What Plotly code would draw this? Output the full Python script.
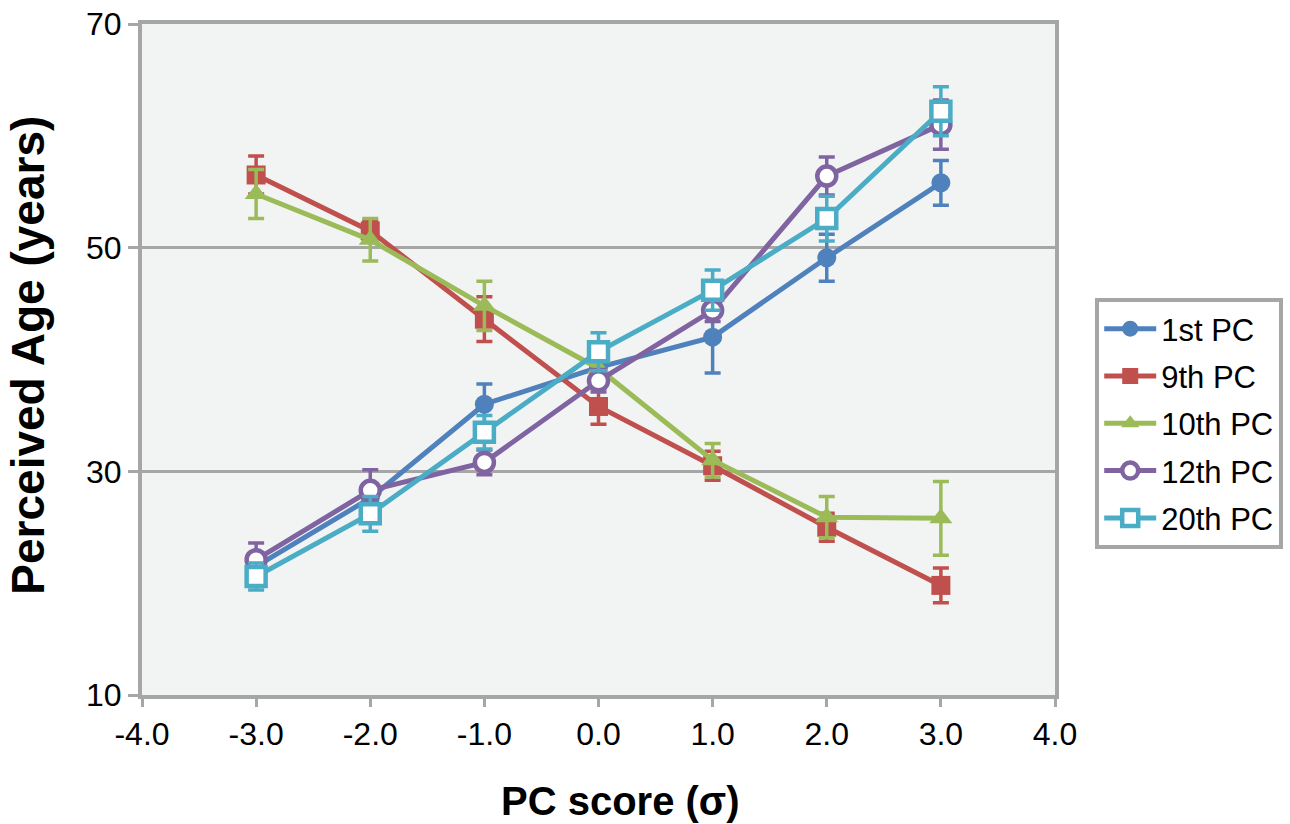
import plotly.graph_objects as go

x_vals = [-3, -2, -1, 0, 1, 2, 3]

pc1 = [21.5, 27.6, 36.0, 39.3, 42.0, 49.1, 55.8]
pc1_err = [1.0, 1.0, 1.8, 1.0, 3.2, 2.1, 2.0]
pc9 = [56.5, 51.5, 43.6, 35.8, 30.5, 25.0, 19.8]
pc9_err = [1.7, 0.9, 2.0, 1.6, 1.3, 1.25, 1.55]
pc10 = [54.8, 50.7, 44.8, 39.2, 31.0, 25.9, 25.8]
pc10_err = [2.2, 1.9, 2.2, 1.0, 1.5, 1.85, 3.3]
pc12 = [22.1, 28.3, 30.8, 38.1, 44.4, 56.4, 61.0]
pc12_err = [1.5, 1.85, 1.1, 1.0, 1.0, 1.7, 2.2]
pc20 = [20.6, 26.2, 33.5, 40.7, 46.2, 52.6, 62.2]
pc20_err = [1.2, 1.55, 1.5, 1.7, 1.8, 2.0, 2.2]

names = ["1st PC", "9th PC", "10th PC", "12th PC", "20th PC"]
colors = ["#4f81bd", "#c0504d", "#9bbb59", "#8064a2", "#4bacc6"]
symbols = ["circle", "square", "triangle-up", "circle-open", "square-open"]
series = [(pc1, pc1_err), (pc9, pc9_err), (pc10, pc10_err), (pc12, pc12_err), (pc20, pc20_err)]

fig = go.Figure()
for name, col, sym, (ys, es) in zip(names, colors, symbols, series):
    open_marker = sym.endswith("open")
    fig.add_trace(go.Scatter(
        x=x_vals, y=ys, name=name, mode="lines+markers", legendgroup=name,
        line=dict(color=col, width=5),
        marker=dict(symbol=sym.replace("-open", "") if open_marker else sym,
                    size=19 if sym != "triangle-up" else 20,
                    color="white" if open_marker else col,
                    line=dict(color=col, width=4.5 if open_marker else 0)),
        error_y=dict(type="data", array=es, visible=True, color=col, thickness=3.5, width=8),
    ))

fig.update_layout(
    width=1290, height=824,
    margin=dict(l=142, r=235, t=24, b=129, autoexpand=False),
    paper_bgcolor="white",
    plot_bgcolor="#f2f4f3",
    font=dict(family="Liberation Sans, Arial, sans-serif", size=30, color="black"),
    showlegend=True,
    legend=dict(xref="container", yref="container", x=0.849, y=0.486,
                xanchor="left", yanchor="middle",
                bordercolor="#a6a6a6", borderwidth=4, bgcolor="white",
                font=dict(size=31), itemwidth=52, tracegroupgap=4),
    xaxis=dict(range=[-4, 4], tickvals=[-4, -3, -2, -1, 0, 1, 2, 3, 4],
               ticktext=["-4.0", "-3.0", "-2.0", "-1.0", "0.0", "1.0", "2.0", "3.0", "4.0"],
               showgrid=False, zeroline=False, showline=True, linecolor="#a6a6a6", linewidth=4,
               ticks="outside", ticklen=8, tickwidth=3, tickcolor="#a6a6a6",
               mirror=True, tickfont=dict(size=32)),
    yaxis=dict(range=[10, 70], tickvals=[10, 30, 50, 70],
               showgrid=True, gridcolor="#a6a6a6", gridwidth=3, zeroline=False,
               showline=True, linecolor="#a6a6a6", linewidth=4, mirror=True,
               ticks="outside", ticklen=10, tickwidth=3, tickcolor="#a6a6a6",
               tickfont=dict(size=32)),
    annotations=[
        dict(text="<b>PC score (σ)</b>", xref="paper", yref="paper", x=0.5236, y=-0.158,
             xanchor="center", yanchor="middle", showarrow=False, font=dict(size=40)),
        dict(text="<b>Perceived Age (years)</b>", xref="paper", yref="paper", x=-0.125, y=0.507,
             xanchor="center", yanchor="middle", showarrow=False, textangle=-90,
             font=dict(size=46)),
    ],
)

fig.write_html("out.html", config={"displayModeBar": False},
               post_script="document.body.style.margin='0';")
